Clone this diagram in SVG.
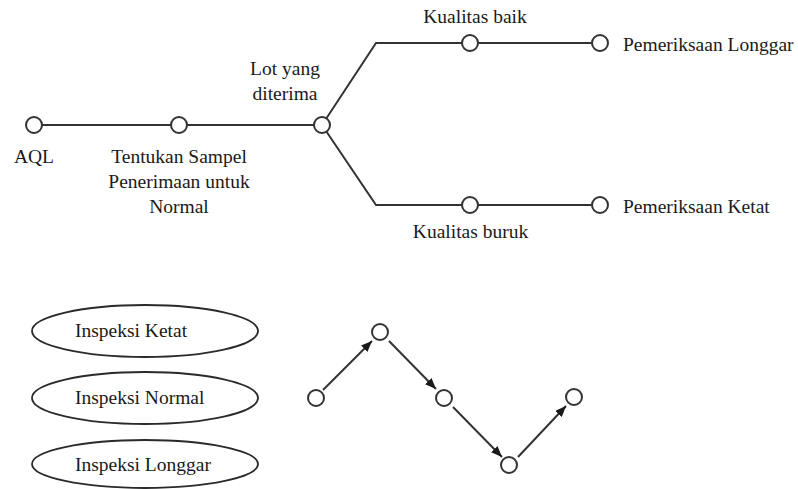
<svg xmlns="http://www.w3.org/2000/svg" width="798" height="489" viewBox="0 0 798 489">
<style>
.ln{stroke:#333;stroke-width:2;fill:none}
.nd{fill:#fff;stroke:#333;stroke-width:2}
.el{fill:#fff;stroke:#2a2a2a;stroke-width:1.8}
text{font-family:"Liberation Serif","Times New Roman",serif;font-size:19.5px;fill:#1a1a1a}
.m{text-anchor:middle}
</style>
<defs>
<marker id="ah" markerWidth="11" markerHeight="9" refX="11" refY="4.5" orient="auto" markerUnits="userSpaceOnUse">
<path d="M0,0 L11,4.5 L0,9 Z" fill="#1a1a1a"/>
</marker>
</defs>
<rect width="798" height="489" fill="#fff"/>
<g id="connectors">
<path class="ln" d="M34,125 H322"/>
<path class="ln" d="M322,125 L376,43 H600"/>
<path class="ln" d="M322,125 L376,205 H600"/>
<line class="ln" x1="323" y1="390" x2="372" y2="341" marker-end="url(#ah)"/>
<line class="ln" x1="389" y1="341" x2="436" y2="389" marker-end="url(#ah)"/>
<line class="ln" x1="453" y1="407" x2="502" y2="457" marker-end="url(#ah)"/>
<line class="ln" x1="518" y1="457" x2="566" y2="406" marker-end="url(#ah)"/>
</g>
<g id="n-aql"><circle class="nd" cx="34" cy="125" r="8"/><text class="m" x="34" y="163">AQL</text></g>
<g id="n-tentukan"><circle class="nd" cx="179" cy="125" r="8"/>
<text class="m" x="179" y="163">Tentukan Sampel</text>
<text class="m" x="179" y="188">Penerimaan untuk</text>
<text class="m" x="179" y="213">Normal</text></g>
<g id="n-lot"><circle class="nd" cx="322" cy="125" r="8"/>
<text class="m" x="285" y="75">Lot yang</text>
<text class="m" x="285" y="100">diterima</text></g>
<g id="n-baik"><circle class="nd" cx="470" cy="43" r="8"/><text class="m" x="475" y="23">Kualitas baik</text></g>
<g id="n-longgar"><circle class="nd" cx="600" cy="43" r="8"/><text x="623" y="51">Pemeriksaan Longgar</text></g>
<g id="n-buruk"><circle class="nd" cx="470" cy="205" r="8"/><text class="m" x="470.5" y="238">Kualitas buruk</text></g>
<g id="n-ketat"><circle class="nd" cx="600" cy="205" r="8"/><text x="623" y="213">Pemeriksaan Ketat</text></g>
<g id="e-ketat"><ellipse class="el" cx="145" cy="331" rx="113" ry="26"/><text x="75" y="337">Inspeksi Ketat</text></g>
<g id="e-normal"><ellipse class="el" cx="145" cy="398" rx="113" ry="26"/><text x="75" y="404">Inspeksi Normal</text></g>
<g id="e-longgar"><ellipse class="el" cx="145" cy="464" rx="113" ry="24"/><text x="75" y="471">Inspeksi Longgar</text></g>
<g id="z1"><circle class="nd" cx="316" cy="398" r="8"/></g>
<g id="z2"><circle class="nd" cx="380" cy="332" r="8"/></g>
<g id="z3"><circle class="nd" cx="444" cy="398" r="8"/></g>
<g id="z4"><circle class="nd" cx="509" cy="465" r="8"/></g>
<g id="z5"><circle class="nd" cx="574" cy="397" r="8"/></g>
</svg>
